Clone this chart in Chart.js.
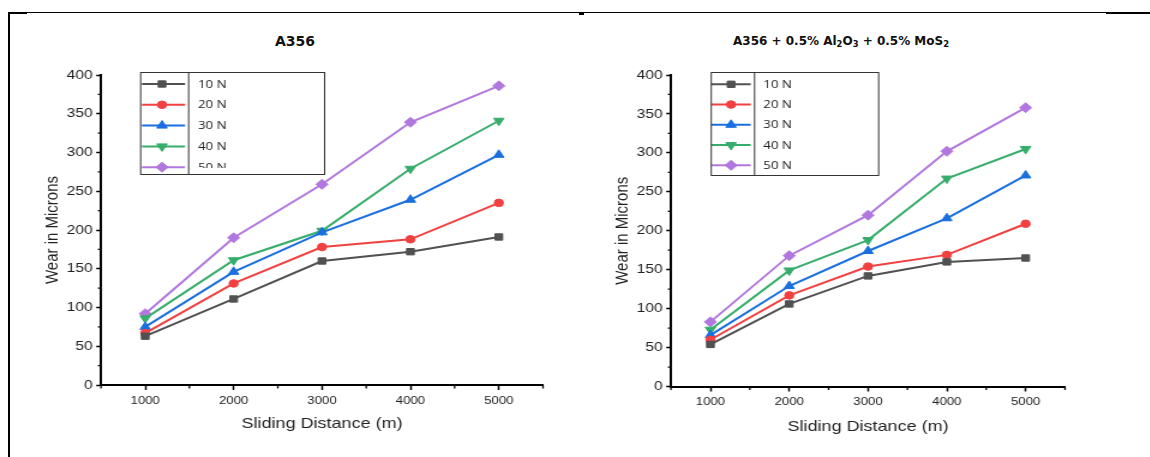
<!DOCTYPE html>
<html>
<head>
<meta charset="utf-8">
<script src="https://cdn.jsdelivr.net/npm/chart.js"></script>
<style>
  html, body { margin: 0; padding: 0; background: #fff; }
  body { width: 1150px; height: 457px; position: relative; overflow: hidden; }
  .line { position: absolute; background: #000; }
  .wrap { position: absolute; top: 0; width: 480px; height: 457px; transform: scaleX(1.2); transform-origin: 0 0; }
  .ttl { position: absolute; top: 33px; line-height: 16px; font-family: "DejaVu Sans", sans-serif; font-weight: bold; color: #111; white-space: nowrap; transform: translateX(-50%); }
  .ttl sub { font-size: 70%; vertical-align: -2px; line-height: 0; }
</style>
</head>
<body>
<div class="line" style="left:8px;top:12px;width:1098px;height:1px;"></div>
<div class="line" style="left:8px;top:12px;width:19px;height:2px;"></div>
<div class="line" style="left:579px;top:13px;width:5px;height:1.5px;"></div>
<div class="line" style="left:1106px;top:12px;width:44px;height:2px;"></div>
<div class="line" style="left:8px;top:12px;width:2px;height:445px;"></div>

<div class="ttl" style="left:295px;font-size:14px;">A356</div>
<div class="ttl" style="left:841px;font-size:12px;">A356 + 0.5% Al<sub>2</sub>O<sub>3</sub> + 0.5% MoS<sub>2</sub></div>

<div class="wrap" style="left:0px;"><canvas id="cL" width="480" height="457"></canvas></div>
<div class="wrap" style="left:576px;"><canvas id="cR" width="480" height="457"></canvas></div>

<script>
// ---- data ----
const distances = [1000, 2000, 3000, 4000, 5000];
const loadLabels = ['10 N', '20 N', '30 N', '40 N', '50 N'];

const a356_10N = [63, 111, 160, 172, 191];
const a356_20N = [67, 131, 178, 188, 235];
const a356_30N = [75, 146, 197, 239, 297];
const a356_40N = [86, 161, 199, 279, 341];
const a356_50N = [92, 190, 259, 339, 386];

const comp_10N = [54, 106, 142, 160, 165];
const comp_20N = [60, 117, 154, 169, 209];
const comp_30N = [66, 129, 174, 216, 271];
const comp_40N = [73, 149, 188, 267, 305];
const comp_50N = [83, 168, 220, 302, 358];

const xTicks = [1000, 2000, 3000, 4000, 5000];
const yTicks = [0, 50, 100, 150, 200, 250, 300, 350, 400];
const xMinorTicks = [500, 1500, 2500, 3500, 4500, 5500];
const yMinorTicks = [25, 75, 125, 175, 225, 275, 325, 375];

// ---- styles ----
const colors = ['#515151', '#F14040', '#1A6FDF', '#37AD6B', '#B177DE'];
const pStyles = ['rect', 'circle', 'triangle', 'triangle', 'rectRot'];
const pRot = [0, 0, 0, 180, 0];
const pRad = [4.5, 3.8, 5, 5, 5];

function drawMarker(ctx, i, x, y) {
  const H = Chart.helpers;
  ctx.fillStyle = colors[i];
  ctx.strokeStyle = colors[i];
  ctx.lineWidth = 1;
  if (H && H.drawPoint) {
    H.drawPoint(ctx, {pointStyle: pStyles[i], rotation: pRot[i], radius: pRad[i], borderWidth: 1}, x, y);
  } else {
    ctx.beginPath(); ctx.arc(x, y, pRad[i], 0, Math.PI * 2); ctx.fill();
  }
}

const minorTicks = {
  id: 'minorTicks',
  afterDraw(chart) {
    const ctx = chart.ctx, xs = chart.scales.x, ys = chart.scales.y;
    ctx.save();
    ctx.strokeStyle = '#000';
    ctx.lineWidth = 1.3;
    ctx.beginPath();
    xMinorTicks.forEach(v => {
      const px = xs.getPixelForValue(v);
      ctx.moveTo(px, ys.bottom); ctx.lineTo(px, ys.bottom + 3.5);
    });
    yMinorTicks.forEach(v => {
      const py = ys.getPixelForValue(v);
      ctx.moveTo(xs.left, py); ctx.lineTo(xs.left - 2.6, py);
    });
    ctx.stroke();
    ctx.restore();
  }
};

const boxLegend = {
  id: 'boxLegend',
  afterDraw(chart, args, o) {
    const ctx = chart.ctx;
    ctx.save();
    ctx.fillStyle = '#fff';
    ctx.fillRect(o.x0, o.y0, o.x1 - o.x0, o.y1 - o.y0);
    chart.data.datasets.forEach((ds, i) => {
      const y = o.rowY0 + i * o.rowStep;
      ctx.strokeStyle = colors[i];
      ctx.lineWidth = 2;
      ctx.beginPath(); ctx.moveTo(o.lineX0, y); ctx.lineTo(o.lineX1, y); ctx.stroke();
      drawMarker(ctx, i, o.markerX, y);
      ctx.save();
      ctx.beginPath();
      ctx.rect(o.x0, o.y0, o.x1 - o.x0, o.clipY - o.y0);
      ctx.clip();
      ctx.fillStyle = '#222';
      ctx.font = '11px "Open Sans"';
      ctx.textAlign = 'left';
      ctx.textBaseline = 'middle';
      ctx.fillText(ds.label, o.textX, y + 0.5);
      ctx.restore();
    });
    ctx.strokeStyle = '#333';
    ctx.lineWidth = 1;
    ctx.strokeRect(o.x0 + 0.5, o.y0 + 0.5, o.x1 - o.x0, o.y1 - o.y0);
    ctx.beginPath(); ctx.moveTo(o.xDiv + 0.5, o.y0); ctx.lineTo(o.xDiv + 0.5, o.y1); ctx.stroke();
    ctx.restore();
  }
};

function makeChart(id, series, g) {
  return new Chart(document.getElementById(id), {
    type: 'line',
    data: {
      datasets: series.map((vals, i) => ({
        label: loadLabels[i],
        data: distances.map((d, j) => ({x: d, y: vals[j]})),
        borderColor: colors[i],
        backgroundColor: colors[i],
        pointBackgroundColor: colors[i],
        pointBorderColor: colors[i],
        pointStyle: pStyles[i],
        pointRotation: pRot[i],
        pointRadius: pRad[i],
        pointBorderWidth: 1,
        borderWidth: 2,
        tension: 0,
        clip: false
      }))
    },
    options: {
      responsive: false,
      animation: false,
      devicePixelRatio: 1,
      layout: {padding: {top: 75, right: g.padRight, bottom: 0, left: 0}},
      plugins: {
        legend: {display: false},
        tooltip: {enabled: false},
        title: {display: false},
        boxLegend: g.legend
      },
      scales: {
        x: {
          type: 'linear', min: 500, max: 5500,
          afterBuildTicks: s => { s.ticks = xTicks.map(v => ({value: v})); },
          afterFit: s => { s.height = 457 - g.bottom; },
          ticks: {font: {family: 'Liberation Sans', size: 11}, color: '#222', padding: 4, maxRotation: 0,
                  callback: v => String(v)},
          grid: {display: true, drawOnChartArea: false, drawTicks: true, tickLength: 5, tickColor: '#000', tickWidth: 1.5},
          border: {display: true, color: '#000', width: 2},
          title: {display: true, text: 'Sliding Distance (m)', font: {family: 'Liberation Sans', size: 15}, color: '#222', padding: {top: 0, bottom: g.xTitlePad}}
        },
        y: {
          type: 'linear', min: 0, max: 400,
          afterBuildTicks: s => { s.ticks = yTicks.map(v => ({value: v})); },
          afterFit: s => { s.width = g.left; },
          ticks: {font: {family: 'Liberation Sans', size: 13}, color: '#222', padding: 3,
                  callback: v => String(v)},
          grid: {display: true, drawOnChartArea: false, drawTicks: true, tickLength: 4, tickColor: '#000', tickWidth: 1.5},
          border: {display: true, color: '#000', width: 2},
          title: {display: true, text: 'Wear in Microns', font: {family: 'Liberation Sans', size: 15}, color: '#222', padding: {top: g.yTitlePad, bottom: 0}}
        }
      }
    },
    plugins: [minorTicks, boxLegend]
  });
}

makeChart('cL', [a356_10N, a356_20N, a356_30N, a356_40N, a356_50N], {
  left: 84.17, padRight: 27.5, bottom: 385, xTitlePad: 24, yTitlePad: 35.2,
  legend: {x0: 116.7, x1: 270, xDiv: 156.7, y0: 72, y1: 174, lineX0: 118.3, lineX1: 154.2, markerX: 135,
           textX: 165, rowY0: 84, rowStep: 20.8, clipY: 168}
});
makeChart('cR', [comp_10N, comp_20N, comp_30N, comp_40N, comp_50N], {
  left: 79.17, padRight: 72.5, bottom: 386.5, xTitlePad: 21, yTitlePad: 30.2,
  legend: {x0: 112.2, x1: 251.7, xDiv: 148.3, y0: 72, y1: 175, lineX0: 113, lineX1: 145.6, markerX: 129.2,
           textX: 156.1, rowY0: 84.3, rowStep: 20.25, clipY: 175}
});
</script>
</body>
</html>
